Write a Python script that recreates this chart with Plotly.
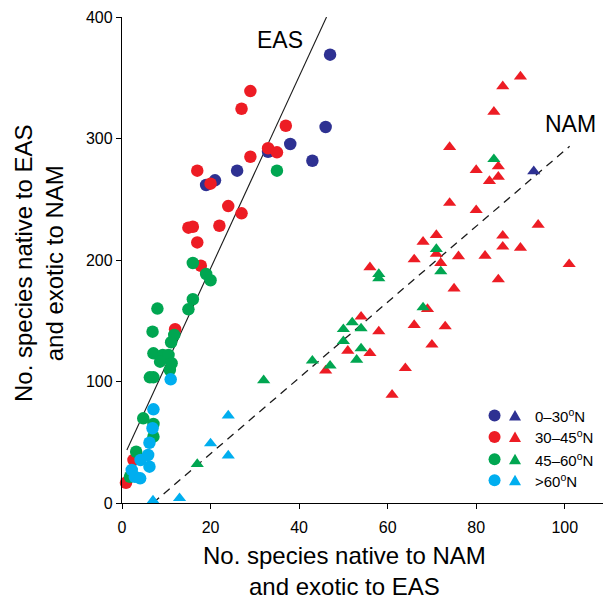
import plotly.graph_objects as go

# ---------------- data ----------------
# Circles: x = natives of NAM exotic to EAS, y = natives of EAS exotic to NAM (EAS cluster)
eas_blue_x = [47, 46, 38, 33, 43, 26, 21, 19]
eas_blue_y = [369, 309.5, 295.5, 289, 281.7, 273.5, 265.6, 261.7]

eas_red_x = [29, 27, 37, 33, 35, 29, 17, 20, 24, 27, 22, 15, 16, 17, 17.8, 12, 2.6, 0.9]
eas_red_y = [339, 324.5, 310.5, 292, 288.6, 285, 273.5, 262.8, 244.4, 238.4, 228.2, 226.6,
             227.4, 214.5, 195.3, 143, 35.4, 16.7]

eas_green_x = [35, 16, 19, 20, 16, 8, 15, 6.9, 11.8, 11.1, 7.1, 9.2, 10.5, 8.6, 11.2, 10.8,
               6.3, 7.1, 4.8, 7.1, 7.1, 3.2, 1.8]
eas_green_y = [273.5, 197.5, 188.5, 183.3, 167.7, 160, 159.4, 141, 138.3, 132.3, 123.2, 121.8,
               121.8, 116.3, 115, 109.5, 103.4, 103.4, 69.7, 65, 54.6, 42.2, 21.6]

eas_cyan_x = [11, 7.1, 6.9, 6.2, 5.9, 4.2, 6.2, 2.2, 2.9, 4.1]
eas_cyan_y = [101.8, 77.1, 61.5, 49.6, 39.5, 35.4, 29.9, 27.2, 21.6, 20.3]

# Triangles: NAM cluster
nam_blue_x = [93]
nam_blue_y = [273]

nam_red_x = [90, 86, 84, 74, 85, 80, 85, 83, 74, 80, 94, 86, 71, 68, 86, 90, 71, 66, 76, 82,
             72, 101, 56, 85, 75, 69, 54, 66, 73, 58, 70, 51, 56, 64, 46, 61]
nam_red_y = [351, 343, 322, 293, 277, 274, 268.5, 265, 247, 241, 229, 220, 220.5, 215, 211,
             210, 205, 200.5, 203, 203.5, 197.5, 196.6, 194, 184, 176.5, 159.6, 153.3, 146.4,
             145.3, 141.2, 130.3, 125.3, 123.3, 111, 109, 89]

nam_green_x = [84, 71, 58, 58, 72, 68, 52, 50, 54, 50, 54, 53, 43, 47, 32, 17]
nam_green_y = [283, 209, 188.4, 184.8, 190.6, 161, 148.6, 143.1, 143.7, 133.2, 127.2, 117.9,
               117.1, 113, 101, 32]

nam_cyan_x = [24, 20, 24, 7, 13]
nam_cyan_y = [72, 49, 39, 2, 4]

# Fitted lines (endpoints)
eas_fit_x = [1.1, 46.2]
eas_fit_y = [43.7, 400]
nam_fit_x = [7, 101.1]
nam_fit_y = [0, 293.6]

legend_labels = ["0–30<sup>o</sup>N", "30–45<sup>o</sup>N", "45–60<sup>o</sup>N", ">60<sup>o</sup>N"]

x_ticks = [0, 20, 40, 60, 80, 100]
y_ticks = [0, 100, 200, 300, 400]

# ---------------- styling ----------------
BLUE = "#2E3192"
RED = "#ED1C24"
GREEN = "#00A651"
CYAN = "#00AEEF"
colors = [BLUE, RED, GREEN, CYAN]
FONT = "Liberation Sans, Arial, Helvetica, sans-serif"

fig = go.Figure()

# fit lines
fig.add_trace(go.Scatter(x=eas_fit_x, y=eas_fit_y, mode="lines",
                         line=dict(color="#1a1a1a", width=1.1), hoverinfo="skip"))
fig.add_trace(go.Scatter(x=nam_fit_x, y=nam_fit_y, mode="lines",
                         line=dict(color="#1a1a1a", width=1.3, dash="8px,6px"), hoverinfo="skip"))

circle_sets = [(eas_blue_x, eas_blue_y), (eas_red_x, eas_red_y),
               (eas_green_x, eas_green_y), (eas_cyan_x, eas_cyan_y)]
tri_sets = [(nam_blue_x, nam_blue_y), (nam_red_x, nam_red_y),
            (nam_green_x, nam_green_y), (nam_cyan_x, nam_cyan_y)]

for (xs, ys), c in zip(circle_sets, colors):
    fig.add_trace(go.Scatter(x=xs, y=ys, mode="markers", cliponaxis=False,
                             marker=dict(symbol="circle", size=12.5, color=c, line=dict(width=0))))
for (xs, ys), c in zip(tri_sets, colors):
    fig.add_trace(go.Scatter(x=xs, y=ys, mode="markers", cliponaxis=False,
                             marker=dict(symbol="triangle-up", size=11.5, color=c, line=dict(width=0))))

# ---------------- legend (custom, shapes + text) ----------------
shapes = []
annotations = []
row_y = [0.180, 0.136, 0.090, 0.047]
for c, yy, lab in zip(colors, row_y, legend_labels):
    shapes.append(dict(type="circle", xref="paper", yref="paper",
                       xsizemode="pixel", ysizemode="pixel",
                       xanchor=0.765, yanchor=yy, x0=-6, x1=6, y0=-6, y1=6,
                       fillcolor=c, line=dict(width=0)))
    shapes.append(dict(type="path", xref="paper", yref="paper",
                       xsizemode="pixel", ysizemode="pixel",
                       xanchor=0.807, yanchor=yy,
                       path="M -6,-5 L 6,-5 L 0,5.5 Z",
                       fillcolor=c, line=dict(width=0)))
    annotations.append(dict(text=lab, xref="paper", yref="paper", x=0.843, y=yy,
                            xanchor="left", yanchor="middle", showarrow=False,
                            font=dict(family=FONT, size=15, color="black")))

annotations.append(dict(text="EAS", xref="paper", yref="paper",
                        x=(280 - 122) / 487, y=(503 - 40) / 486,
                        xanchor="center", yanchor="middle", showarrow=False,
                        font=dict(family=FONT, size=23, color="black")))
annotations.append(dict(text="NAM", xref="paper", yref="paper",
                        x=(570 - 122) / 487, y=(503 - 124) / 486,
                        xanchor="center", yanchor="middle", showarrow=False,
                        font=dict(family=FONT, size=23, color="black")))

# axis titles
annotations.append(dict(text="No. species native to NAM<br>and exotic to EAS",
                        xref="paper", yref="paper", x=(344 - 122) / 487, y=(503 - 571) / 486,
                        xanchor="center", yanchor="middle", showarrow=False,
                        font=dict(family=FONT, size=24, color="black")))
annotations.append(dict(text="No. species native to EAS<br>and exotic to NAM",
                        xref="paper", yref="paper", x=(39 - 122) / 487, y=(503 - 264) / 486,
                        xanchor="center", yanchor="middle", showarrow=False, textangle=-90,
                        font=dict(family=FONT, size=24, color="black")))

# the page body adds an 8px offset, so margins are reduced by 8px on the left/top
fig.update_layout(
    width=611, height=596,
    margin=dict(l=114, r=10, t=9, b=101, autoexpand=False),
    paper_bgcolor="white", plot_bgcolor="white",
    showlegend=False,
    shapes=shapes, annotations=annotations,
    font=dict(family=FONT, color="black"),
)
fig.update_xaxes(range=[0, 110], tickvals=x_ticks, ticks="outside", ticklen=5, tickwidth=1.2,
                 tickcolor="black", showline=True, linecolor="black", linewidth=1.3,
                 showgrid=False, zeroline=False, tickfont=dict(family=FONT, size=16, color="black"),
                 ticklabelstandoff=5)
fig.update_yaxes(range=[0, 400], tickvals=y_ticks, ticks="outside", ticklen=5, tickwidth=1.2,
                 tickcolor="black", showline=True, linecolor="black", linewidth=1.3,
                 showgrid=False, zeroline=False, tickfont=dict(family=FONT, size=16, color="black"),
                 ticklabelstandoff=0)

fig.write_html("out.html")
